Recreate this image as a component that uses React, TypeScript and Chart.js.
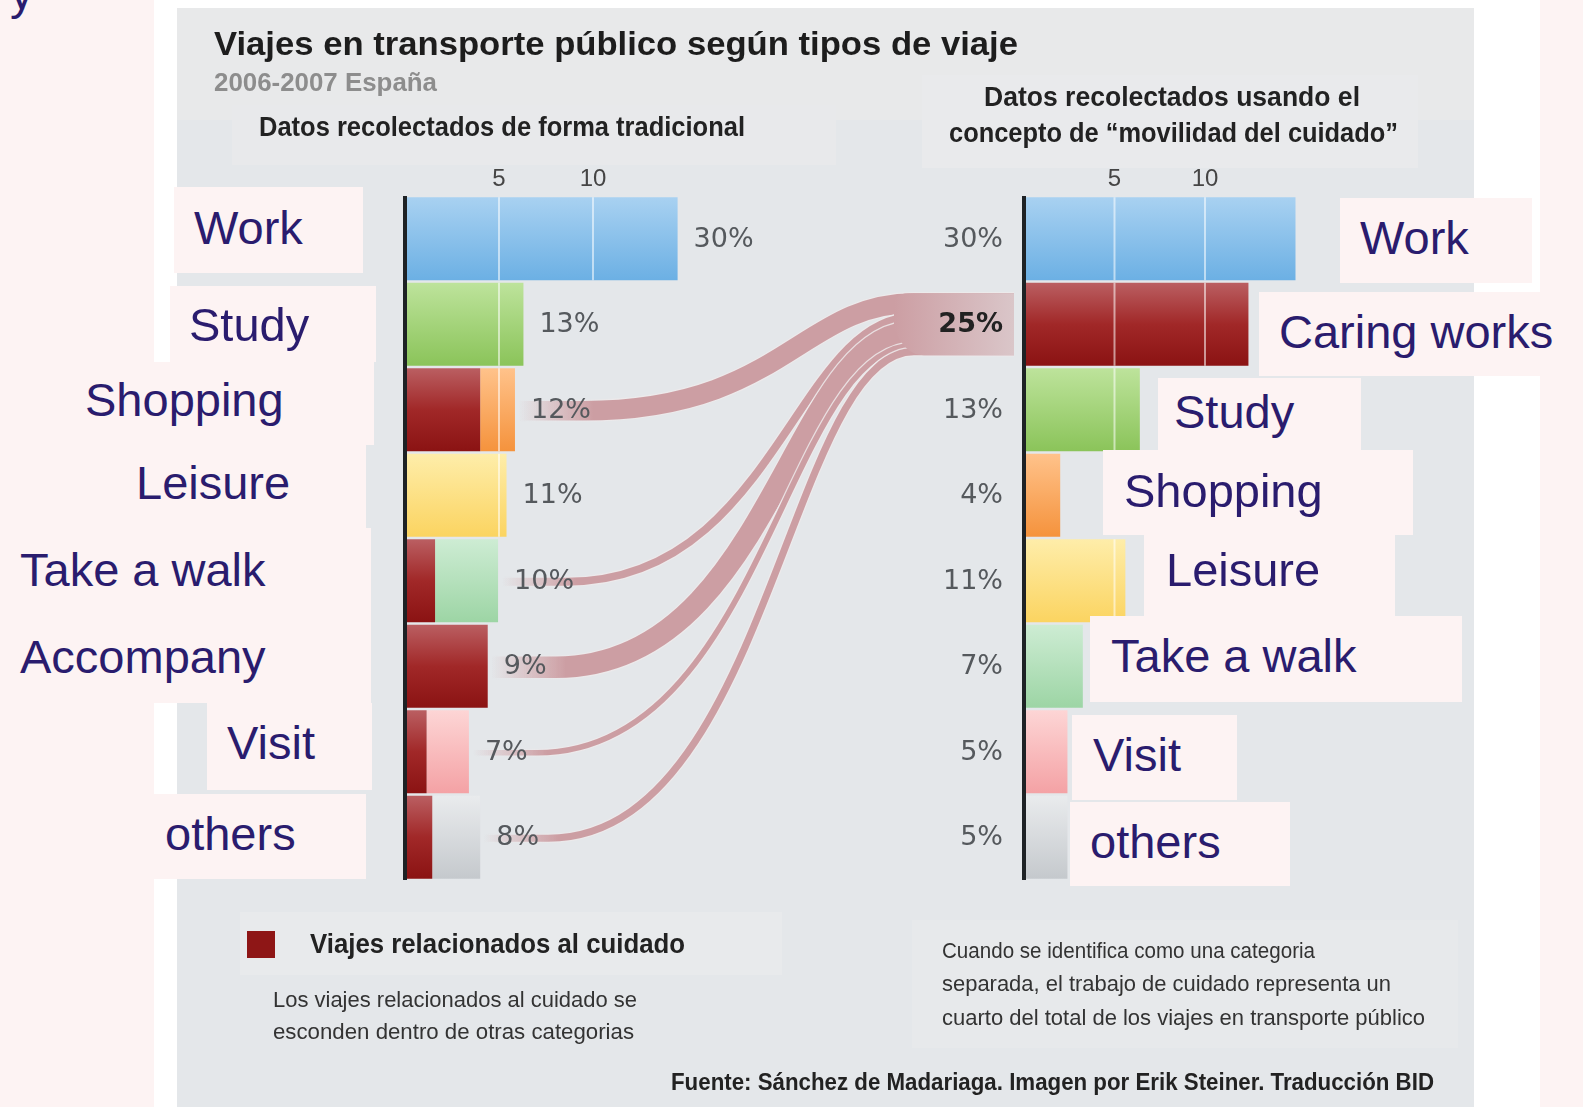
import React, { useEffect, useRef, useMemo } from 'react';
import { Chart, registerables } from 'chart.js';

Chart.register(...registerables);

// ---------------- data ----------------
const leftCategories = ['Work', 'Study', 'Shopping', 'Leisure', 'Take a walk', 'Accompany', 'Visit', 'others'];
const rightCategories = ['Work', 'Caring works', 'Study', 'Shopping', 'Leisure', 'Take a walk', 'Visit', 'others'];
// bar lengths read on the 5 / 10 axis of each panel
const leftCareValues = [0, 0, 4.0, 0, 1.6, 4.4, 1.15, 1.45];
const leftOtherValues = [14.5, 6.3, 1.85, 5.4, 3.35, 0, 2.25, 2.55];
const rightValues = [15.0, 12.4, 6.4, 2.0, 5.6, 3.25, 2.4, 2.4];
const leftShares = ['30%', '13%', '12%', '11%', '10%', '9%', '7%', '8%'];
const rightShares = ['30%', '25%', '13%', '4%', '11%', '7%', '5%', '5%'];
const axisTicks = [5, 10];
const caringRow = 1;

// ---------------- styles ----------------
const BLUE = ['#a8d1f1', '#6cb0e4'];
const CARE = ['#ba5e61', '#a12828', '#8b1313'];
const GREEN = ['#bde39b', '#8bc45a'];
const ORANGE = ['#ffc28a', '#f5933d'];
const YELLOW = ['#feeda9', '#fbd461'];
const LGREEN = ['#cdecd3', '#9dd5a5'];
const PINK = ['#fdd5d5', '#f4a2a5'];
const GREY = ['#e9ebed', '#c5c9cd'];
const leftStops = [BLUE, GREEN, ORANGE, YELLOW, LGREEN, CARE, PINK, GREY];
const rightStops = [BLUE, CARE, GREEN, ORANGE, YELLOW, LGREEN, PINK, GREY];

const NAVY = '#2a1c6e';
const PINKBG = '#fdf3f3';
const PANEL = '#e4e7ea';
const FLOW = [204, 158, 163];

function makeFill(stopsFor: (i: number) => string[]) {
  return (c: any) => {
    const i = c.dataIndex;
    if (i === undefined) return stopsFor(0)[0];
    const stops = stopsFor(i);
    const chart = c.chart;
    if (!chart.chartArea || !chart.scales.y) return stops[stops.length - 1];
    const yc = chart.scales.y.getPixelForValue(i);
    const g = chart.ctx.createLinearGradient(0, yc - 41, 0, yc + 41);
    stops.forEach((s: string, k: number) => g.addColorStop(k / (stops.length - 1), s));
    return g;
  };
}

const stripesPlugin = {
  id: 'barStripes',
  beforeDatasetsDraw(chart: any) {
    // care flows
    const { ctx } = chart;
    const y = chart.scales.y;
    const xL = chart.scales.xL;
    const xR = chart.scales.xR;
    const total = leftCareValues.reduce((a, b) => a + b, 0);
    const blockH = 62;
    const k = blockH / total;
    const yDest = y.getPixelForValue(caringRow);
    const xEnd = xR.getPixelForValue(0) - 10;
    const xJoin = xEnd - 100;
    let cursor = yDest - blockH / 2;
    const col = (a: number) => `rgba(${FLOW[0]},${FLOW[1]},${FLOW[2]},${a})`;
    ctx.save();
    ctx.lineCap = 'butt';
    leftCareValues.forEach((v, i) => {
      if (!v) return;
      const t = v * k;
      const ye = cursor + t / 2;
      cursor += t;
      const barEnd = xL.getPixelForValue(leftCareValues[i] + leftOtherValues[i]);
      const y0 = y.getPixelForValue(i) + 1;
      const xs = barEnd + 4;
      const xc = barEnd + 68;
      const dx = xJoin - xc;
      const path = () => {
        ctx.beginPath();
        ctx.moveTo(xs, y0);
        ctx.lineTo(xc, y0);
        ctx.bezierCurveTo(xc + 0.6 * dx, y0, xJoin - 0.34 * dx, ye, xJoin, ye);
        ctx.lineTo(xEnd, ye);
      };
      const gOut = ctx.createLinearGradient(xs, 0, xc + 40, 0);
      gOut.addColorStop(0, 'rgba(238,234,235,0)');
      gOut.addColorStop(1, 'rgba(238,234,235,0.85)');
      path();
      ctx.lineWidth = t + 2.5;
      ctx.strokeStyle = gOut;
      ctx.stroke();
      const g = ctx.createLinearGradient(xs, 0, xc + 10, 0);
      g.addColorStop(0, col(0));
      g.addColorStop(1, col(1));
      path();
      ctx.lineWidth = t;
      ctx.strokeStyle = g;
      ctx.stroke();
    });
    // block behind the caring share
    const top = yDest - blockH / 2;
    const gb = ctx.createLinearGradient(xJoin - 20, 0, xEnd, 0);
    gb.addColorStop(0, col(1));
    gb.addColorStop(1, 'rgba(218,198,201,1)');
    ctx.fillStyle = gb;
    ctx.beginPath();
    const r = 14;
    ctx.moveTo(xJoin - 20 + r, top);
    ctx.lineTo(xEnd, top);
    ctx.lineTo(xEnd, top + blockH);
    ctx.lineTo(xJoin + 10, top + blockH);
    ctx.quadraticCurveTo(xJoin - 10, top + blockH, xJoin - 20, top + blockH - r * 2);
    ctx.lineTo(xJoin - 20, top + r);
    ctx.quadraticCurveTo(xJoin - 20, top, xJoin - 20 + r, top);
    ctx.closePath();
    ctx.fill();
    ctx.restore();
  },
  afterDatasetsDraw(chart: any) {
    const { ctx } = chart;
    const y = chart.scales.y;
    const xL = chart.scales.xL;
    const xR = chart.scales.xR;
    ctx.save();
    // light grid stripes on the bars
    chart.data.datasets.forEach((ds: any, di: number) => {
      const meta = chart.getDatasetMeta(di);
      const scale = chart.scales[ds.xAxisID];
      meta.data.forEach((el: any) => {
        const p = el.getProps(['x', 'base', 'y', 'height'], true);
        const lo = Math.min(p.x, p.base);
        const hi = Math.max(p.x, p.base);
        axisTicks.forEach((tv) => {
          const px = scale.getPixelForValue(tv);
          if (px > lo + 2 && px < hi - 2) {
            ctx.strokeStyle = 'rgba(255,255,255,0.55)';
            ctx.lineWidth = 2;
            ctx.beginPath();
            ctx.moveTo(px, p.y - p.height / 2);
            ctx.lineTo(px, p.y + p.height / 2);
            ctx.stroke();
          }
        });
      });
    });
    // share labels
    ctx.textBaseline = 'middle';
    leftShares.forEach((s, i) => {
      const end = xL.getPixelForValue(leftCareValues[i] + leftOtherValues[i]);
      ctx.font = '27px "DejaVu Sans"';
      ctx.fillStyle = '#55595d';
      ctx.textAlign = 'left';
      ctx.fillText(s, end + 16, y.getPixelForValue(i) + 1);
    });
    rightShares.forEach((s, i) => {
      const bold = i === caringRow;
      ctx.font = (bold ? 'bold ' : '') + '27px "DejaVu Sans"';
      ctx.fillStyle = bold ? '#222222' : '#55595d';
      ctx.textAlign = 'right';
      ctx.fillText(s, xR.getPixelForValue(0) - 21, y.getPixelForValue(i) + 1);
    });
    ctx.restore();
  },
};

function xAxis(weight: number, stackWeight: number, max: number) {
  return {
    type: 'linear',
    position: 'top',
    stack: 'topAxes',
    stackWeight,
    weight,
    min: 0,
    max,
    stacked: true,
    afterBuildTicks: (s: any) => {
      s.ticks = [0, ...axisTicks].map((v) => ({ value: v }));
    },
    afterFit: (s: any) => {
      s.height = 30;
    },
    ticks: {
      callback: (v: any) => (v === 0 ? '' : String(v)),
      font: { family: 'Liberation Sans', size: 24 },
      color: '#454545',
      padding: 2,
      maxRotation: 0,
      autoSkip: false,
    },
    grid: {
      z: 1,
      drawTicks: false,
      color: (c: any) => (c.tick && c.tick.value === 0 ? '#1e2225' : 'rgba(0,0,0,0)'),
      lineWidth: (c: any) => (c.tick && c.tick.value === 0 ? 4 : 0),
    },
    border: { display: false },
  };
}

function FitText(props: {
  text: string; left: number; cy: number; width?: number; size: number;
  bold?: boolean; color: string; family?: string;
}) {
  const { text, left, cy, width, size, bold, color } = props;
  const family = props.family || 'Liberation Sans';
  const font = `${bold ? 'bold' : 'normal'} ${size}px "${family}"`;
  const measured = useMemo(() => {
    const c = document.createElement('canvas').getContext('2d') as CanvasRenderingContext2D;
    c.font = font;
    return c.measureText(text).width || 1;
  }, [font, text]);
  const sx = width ? width / measured : 1;
  return (
    <div
      style={{
        position: 'absolute',
        left,
        top: cy - size * 0.6,
        height: size * 1.2,
        lineHeight: `${size * 1.2}px`,
        font,
        color,
        whiteSpace: 'nowrap',
        transform: `scaleX(${sx})`,
        transformOrigin: '0 50%',
      }}
    >
      {text}
    </div>
  );
}

function Box(p: { l: number; t: number; r: number; b: number; c: string }) {
  return <div style={{ position: 'absolute', left: p.l, top: p.t, width: p.r - p.l, height: p.b - p.t, background: p.c }} />;
}

// label boxes: [left, top, right, bottom, textLeft, textCenterY]
const leftLabelBoxes = [
  [174, 187, 363, 273, 194, 228],
  [170, 286, 376, 362, 189, 325],
  [0, 362, 374, 445, 85, 400],
  [0, 445, 366, 528, 136, 483],
  [0, 528, 371, 616, 20, 570],
  [0, 616, 371, 703, 20, 657],
  [207, 703, 372, 790, 227, 743],
  [153, 794, 366, 879, 165, 834],
];
const rightLabelBoxes = [
  [1340, 198, 1532, 283, 1360, 238],
  [1259, 292, 1583, 376, 1279, 332],
  [1158, 378, 1361, 450, 1174, 412],
  [1103, 450, 1413, 535, 1124, 491],
  [1144, 535, 1395, 616, 1166, 570],
  [1090, 616, 1462, 702, 1111, 656],
  [1072, 715, 1237, 800, 1093, 755],
  [1070, 802, 1290, 886, 1090, 842],
];

export default function App() {
  const ref = useRef<HTMLCanvasElement | null>(null);

  useEffect(() => {
    if (!ref.current) return;
    const chart = new Chart(ref.current, {
      type: 'bar',
      data: {
        labels: leftCategories,
        datasets: [
          {
            label: 'care',
            data: leftCareValues,
            xAxisID: 'xL',
            yAxisID: 'y',
            stack: 'L',
            grouped: false,
            backgroundColor: makeFill(() => CARE),
            borderWidth: 0,
            barPercentage: 0.97,
            categoryPercentage: 1,
          },
          {
            label: 'other',
            data: leftOtherValues,
            xAxisID: 'xL',
            yAxisID: 'y',
            stack: 'L',
            grouped: false,
            backgroundColor: makeFill((i) => leftStops[i]),
            borderWidth: 0,
            barPercentage: 0.97,
            categoryPercentage: 1,
          },
          {
            label: 'right',
            data: rightValues,
            xAxisID: 'xR',
            yAxisID: 'y',
            stack: 'R',
            grouped: false,
            backgroundColor: makeFill((i) => rightStops[i]),
            borderWidth: 0,
            barPercentage: 0.97,
            categoryPercentage: 1,
          },
        ] as any,
      },
      options: {
        indexAxis: 'y',
        responsive: false,
        animation: false,
        events: [],
        layout: { padding: { left: 405, right: 123, top: 166, bottom: 227 } },
        plugins: { legend: { display: false }, tooltip: { enabled: false } },
        scales: {
          y: { type: 'category', display: false, offset: true, stacked: true },
          xL: xAxis(2, 619, 619 / 18.8),
          xR: xAxis(1, 436, 436 / 18.1),
        } as any,
      } as any,
      plugins: [stripesPlugin],
    });
    return () => chart.destroy();
  }, []);

  return (
    <div style={{ position: 'absolute', left: 0, top: 0, width: 1583, height: 1107, overflow: 'hidden', background: PINKBG }}>
      <Box l={154} t={0} r={1540} b={1107} c="#ffffff" />
      <Box l={177} t={8} r={1474} b={1107} c={PANEL} />
      <Box l={177} t={8} r={1474} b={120} c="#e8e9ea" />
      <Box l={232} t={105} r={836} b={165} c="#e8e9eb" />
      <Box l={922} t={75} r={1418} b={168} c="#e9eaec" />
      <Box l={240} t={912} r={782} b={975} c="#e8eaec" />
      <Box l={912} t={920} r={1458} b={1048} c="#e7e9eb" />
      <div style={{ position: 'absolute', left: 10, top: -31, font: '47px "Liberation Sans"', lineHeight: '47px', color: NAVY }}>y</div>
      <canvas ref={ref} width={1583} height={1107} style={{ position: 'absolute', left: 0, top: 0 }} />

      <FitText text="Viajes en transporte público según tipos de viaje" left={214} cy={45} width={804} size={33} bold color="#1d1d1d" />
      <FitText text="2006-2007 España" left={214} cy={83} width={223} size={26} bold color="#8d8d8d" />
      <FitText text="Datos recolectados de forma tradicional" left={259} cy={128} width={486} size={27} bold color="#222222" />
      <FitText text="Datos recolectados usando el" left={984} cy={98} width={376} size={27} bold color="#222222" />
      <FitText text="concepto de “movilidad del cuidado”" left={949} cy={134} width={449} size={27} bold color="#222222" />

      <Box l={247} t={931} r={275} b={958} c="#8e1616" />
      <FitText text="Viajes relacionados al cuidado" left={310} cy={945} width={375} size={28} bold color="#222222" />
      <FitText text="Los viajes relacionados al cuidado se" left={273} cy={1000} width={364} size={22} color="#333333" />
      <FitText text="esconden dentro de otras categorias" left={273} cy={1032} width={361} size={22} color="#333333" />
      <FitText text="Cuando se identifica como una categoria" left={942} cy={951} width={373} size={22} color="#333333" />
      <FitText text="separada, el trabajo de cuidado representa un" left={942} cy={984} width={449} size={22} color="#333333" />
      <FitText text="cuarto del total de los viajes en transporte público" left={942} cy={1018} width={483} size={22} color="#333333" />
      <FitText text="Fuente: Sánchez de Madariaga. Imagen por Erik Steiner. Traducción BID" left={671} cy={1083} width={763} size={23} bold color="#222222" />

      {leftCategories.map((name, i) => {
        const b = leftLabelBoxes[i];
        return (
          <React.Fragment key={'l' + i}>
            <Box l={b[0]} t={b[1]} r={b[2]} b={b[3]} c={PINKBG} />
            <FitText text={name} left={b[4]} cy={b[5]} size={47} color={NAVY} />
          </React.Fragment>
        );
      })}
      {rightCategories.map((name, i) => {
        const b = rightLabelBoxes[i];
        return (
          <React.Fragment key={'r' + i}>
            <Box l={b[0]} t={b[1]} r={b[2]} b={b[3]} c={PINKBG} />
            <FitText text={name} left={b[4]} cy={b[5]} size={47} color={NAVY} />
          </React.Fragment>
        );
      })}
    </div>
  );
}
